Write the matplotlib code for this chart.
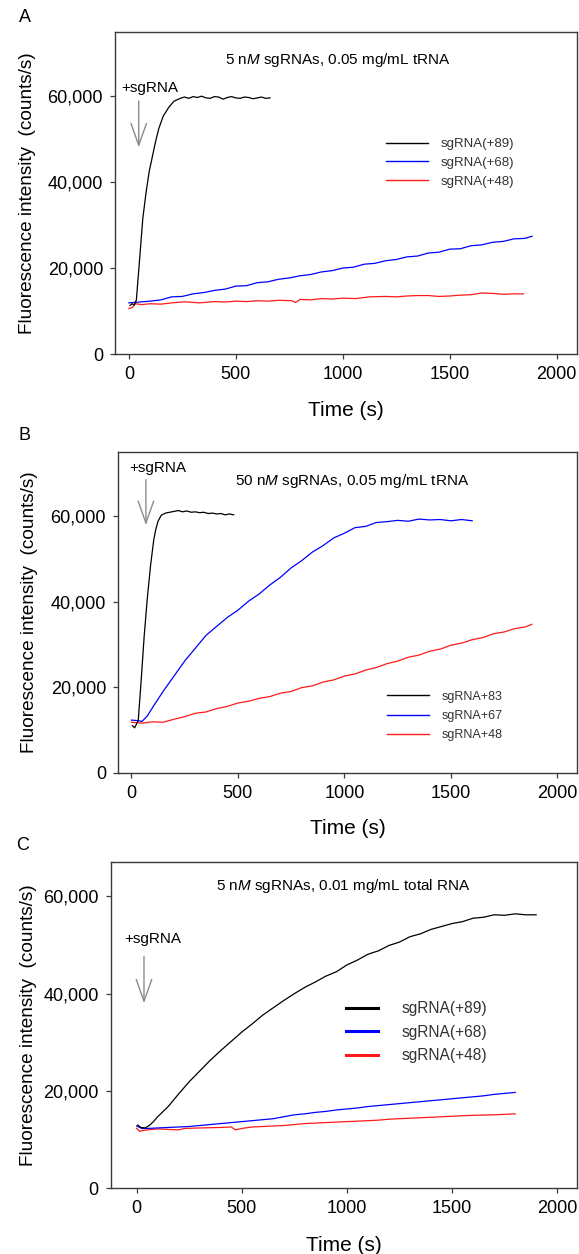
import matplotlib
matplotlib.use("Agg")
import matplotlib.pyplot as plt
from matplotlib.ticker import FuncFormatter, FixedLocator

plt.rcParams['font.family'] = ['Liberation Sans', 'DejaVu Sans']
plt.rcParams['mathtext.fontset'] = 'custom'
plt.rcParams['mathtext.rm'] = 'Liberation Sans'
plt.rcParams['mathtext.it'] = 'Liberation Sans:italic'

# ---------------- panel A : 5 nM sgRNAs, 0.05 mg/mL tRNA ----------------
a_black_t = [5, 15, 25, 35, 50, 65, 80, 95, 110, 125, 140, 160, 185, 210, 240,
             260, 280, 300, 320, 340, 360, 380, 400, 420, 440, 460, 480, 500,
             520, 540, 560, 580, 600, 620, 640, 660]
a_black_y = [11300, 11700, 11400, 12600, 22000, 31500, 37500, 42500, 46000, 49500,
             52500, 55300, 57300, 58800, 59500,
             59800, 59500, 59900, 59700, 60000, 59600, 59500, 59900, 59800, 59300,
             59700, 59900, 59600, 59500, 59800, 59700, 59400, 59600, 59800, 59500, 59600]

a_blue_t = [0, 50, 100, 150, 200, 250, 300, 350, 400, 450, 500, 550, 600, 650, 700,
            750, 800, 850, 900, 950, 1000, 1050, 1100, 1150, 1200, 1250, 1300, 1350,
            1400, 1450, 1500, 1550, 1600, 1650, 1700, 1750, 1800, 1850, 1885]
a_blue_y = [11900, 12100, 12300, 12600, 13300, 13400, 14000, 14300, 14800, 15100,
            15800, 15900, 16600, 16800, 17400, 17700, 18200, 18500, 19100, 19400,
            20000, 20200, 20900, 21100, 21700, 22000, 22600, 22800, 23500, 23700,
            24400, 24500, 25200, 25400, 26000, 26200, 26800, 26900, 27400]

a_red_t = [0, 15, 30, 60, 100, 150, 200, 262, 330, 400, 450, 500, 550, 600, 650, 700,
           760, 780, 800, 850, 900, 950, 1000, 1060, 1125, 1200, 1250, 1300, 1350,
           1400, 1450, 1500, 1550, 1600, 1650, 1700, 1750, 1800, 1845]
a_red_y = [10600, 10800, 11700, 11500, 11700, 11600, 11900, 12150, 11900, 12200,
           12100, 12300, 12200, 12400, 12300, 12500, 12400, 12000, 12700, 12600,
           12900, 12800, 13000, 12900, 13300, 13400, 13300, 13500, 13600, 13600,
           13400, 13500, 13700, 13800, 14200, 14100, 13900, 14000, 14000]

# ---------------- panel B : 50 nM sgRNAs, 0.05 mg/mL tRNA ----------------
b_black_t = [5, 15, 25, 32, 45, 60, 75, 90, 105, 115, 125, 140, 160, 180, 200, 220,
             240, 260, 280, 300, 320, 340, 360, 380, 400, 420, 440, 460, 480]
b_black_y = [11000, 10500, 11500, 12200, 21000, 32000, 41000, 48500, 54500, 57000,
             58800, 60200, 60700, 60900, 61100, 61300, 61000, 61200, 60900, 61000,
             60800, 60900, 60600, 60700, 60500, 60600, 60300, 60500, 60300]

b_blue_t = [0, 25, 50, 75, 100, 150, 200, 250, 300, 350, 400, 450, 500, 550, 600,
            650, 700, 750, 800, 850, 900, 950, 1000, 1050, 1100, 1150, 1200, 1250,
            1300, 1350, 1400, 1450, 1500, 1550, 1600]
b_blue_y = [12300, 12200, 12000, 13300, 15300, 19100, 22600, 26100, 29100, 32100,
            34200, 36300, 38000, 40100, 41800, 43900, 45700, 47900, 49600, 51600,
            53100, 54900, 56000, 57300, 57600, 58500, 58700, 59000, 58800, 59300,
            59100, 59200, 58900, 59200, 58900]

b_red_t = [0, 50, 100, 150, 200, 250, 300, 350, 400, 450, 500, 550, 600, 650, 700,
           750, 800, 850, 900, 950, 1000, 1050, 1100, 1150, 1200, 1250, 1300, 1350,
           1400, 1450, 1500, 1550, 1600, 1650, 1700, 1750, 1800, 1850, 1880]
b_red_y = [11800, 11600, 11900, 11800, 12500, 13100, 13900, 14200, 15000, 15500,
           16300, 16700, 17400, 17800, 18600, 19000, 19900, 20300, 21200, 21700,
           22600, 23100, 24000, 24600, 25500, 26100, 27000, 27500, 28400, 28900,
           29800, 30300, 31100, 31600, 32500, 32900, 33700, 34100, 34700]

# ---------------- panel C : 5 nM sgRNAs, 0.01 mg/mL total RNA ----------------
c_black_t = [5, 20, 40, 60, 80, 100, 150, 200, 250, 300, 350, 400, 450, 500, 550,
             600, 650, 700, 750, 800, 850, 900, 950, 1000, 1050, 1100, 1150, 1200,
             1250, 1300, 1350, 1400, 1450, 1500, 1550, 1600, 1650, 1700, 1750, 1800,
             1850, 1900]
c_black_y = [13000, 12500, 12400, 12900, 13700, 14700, 16800, 19400, 21900, 24100,
             26300, 28300, 30200, 32100, 33800, 35600, 37100, 38600, 40000, 41300,
             42400, 43600, 44500, 45900, 46900, 48100, 48800, 49900, 50600, 51700,
             52300, 53200, 53800, 54400, 54800, 55500, 55700, 56200, 56100, 56400,
             56200, 56200]

c_blue_t = [0, 25, 50, 100, 150, 200, 250, 300, 350, 400, 450, 500, 550, 600, 650,
            700, 750, 800, 850, 900, 950, 1000, 1050, 1100, 1150, 1200, 1250, 1300,
            1350, 1400, 1450, 1500, 1550, 1600, 1650, 1700, 1750, 1800]
c_blue_y = [12800, 12300, 12300, 12400, 12500, 12600, 12700, 12900, 13100, 13300,
            13500, 13700, 13900, 14100, 14300, 14700, 15100, 15300, 15600, 15800,
            16100, 16300, 16500, 16800, 17000, 17200, 17400, 17600, 17800, 18000,
            18200, 18400, 18600, 18800, 19000, 19300, 19500, 19700]

c_red_t = [0, 15, 30, 100, 200, 228, 300, 400, 450, 470, 500, 550, 600, 700, 800,
           900, 1000, 1100, 1150, 1200, 1300, 1400, 1500, 1600, 1700, 1800]
c_red_y = [12300, 11700, 11900, 12200, 12000, 12300, 12400, 12500, 12600, 12000,
           12300, 12600, 12700, 12900, 13300, 13500, 13700, 13900, 14000, 14200,
           14400, 14600, 14800, 15000, 15100, 15300]

labels_a = ['sgRNA(+89)', 'sgRNA(+68)', 'sgRNA(+48)']
labels_b = ['sgRNA+83', 'sgRNA+67', 'sgRNA+48']
labels_c = ['sgRNA(+89)', 'sgRNA(+68)', 'sgRNA(+48)']

titles = ['5 n$\\mathit{M}$ sgRNAs, 0.05 mg/mL tRNA',
          '50 n$\\mathit{M}$ sgRNAs, 0.05 mg/mL tRNA',
          '5 n$\\mathit{M}$ sgRNAs, 0.01 mg/mL total RNA']

spine_col = '#3a3a3a'

fig = plt.figure(figsize=(5.79, 12.54), dpi=100)

axA = fig.add_axes([0.1986, 0.7177, 0.7979, 0.2570])
axB = fig.add_axes([0.2038, 0.3838, 0.7927, 0.2558])
axC = fig.add_axes([0.1913, 0.0524, 0.8052, 0.2600])

panels = [
    (axA, (a_black_t, a_black_y), (a_blue_t, a_blue_y), (a_red_t, a_red_y), labels_a,
     (-65, 2095), 75000, titles[0], (977, 68400), (98, 61900), (46, 58900, 48100),
     (0.587, 0.593), 9.5, 3.2, 0.9, 0.48, 1.0, -0.171),
    (axB, (b_black_t, b_black_y), (b_blue_t, b_blue_y), (b_red_t, b_red_y), labels_b,
     (-63, 2092), 75000, titles[1], (1035, 68100), (124, 71200), (68, 68500, 57900),
     (0.586, 0.177), 9.0, 3.4, 0.95, 0.58, 1.0, -0.174),
    (axC, (c_black_t, c_black_y), (c_blue_t, c_blue_y), (c_red_t, c_red_y), labels_c,
     (-123, 2094), 67000, titles[2], (985, 62200), (76, 51200), (35, 47700, 38000),
     (0.5045, 0.4785), 11.2, 2.05, 1.5, 0.55, 2.2, -0.158),
]

for (ax, blk, blu, red, labs, xl, ytop, ttl, ttl_xy, sg_xy, arr,
     leg_xy, leg_fs, hlen, hpad, lspace, leg_lw, ylab_x) in panels:
    lr, = ax.plot(red[0], red[1], color='#ff1a1a', lw=0.9)
    lb, = ax.plot(blu[0], blu[1], color='#0000ff', lw=0.9)
    lk, = ax.plot(blk[0], blk[1], color='black', lw=0.9)

    ax.set_xlim(*xl)
    ax.set_ylim(0, ytop)
    ax.xaxis.set_major_locator(FixedLocator([0, 500, 1000, 1500, 2000]))
    ax.yaxis.set_major_locator(FixedLocator([0, 20000, 40000, 60000]))
    ax.yaxis.set_major_formatter(FuncFormatter(lambda v, p: '{:,.0f}'.format(v)))
    ax.tick_params(direction='out', length=3.6, width=0.9, color=spine_col,
                   labelsize=13, pad=5, top=False, right=False)
    for s in ax.spines.values():
        s.set_color(spine_col)
        s.set_linewidth(1.0)

    ax.set_xlabel('Time (s)', fontsize=15)
    ax.xaxis.set_label_coords(0.5, -0.145)
    ax.set_ylabel('Fluorescence intensity  (counts/s)', fontsize=13.7)
    ax.yaxis.set_label_coords(ylab_x, 0.5)

    ax.text(ttl_xy[0], ttl_xy[1], ttl, ha='center', va='center', fontsize=11)
    ax.text(sg_xy[0], sg_xy[1], '+sgRNA', ha='center', va='center', fontsize=11)
    ax.annotate('', xy=(arr[0], arr[2]), xytext=(arr[0], arr[1]),
                arrowprops=dict(arrowstyle='->,head_length=0.45,head_width=0.16',
                                color='#8c8c8c', lw=1.0, mutation_scale=35,
                                shrinkA=0, shrinkB=0))

    leg = ax.legend([lk, lb, lr], labs, loc='center left', bbox_to_anchor=leg_xy,
                    frameon=False, fontsize=leg_fs, handlelength=hlen,
                    handletextpad=hpad, labelspacing=lspace, borderpad=0,
                    borderaxespad=0)
    for ln in leg.get_lines():
        ln.set_linewidth(leg_lw)
    for t in leg.get_texts():
        t.set_color('#333333')

fig.text(25 / 579, 1 - 17 / 1254, 'A', ha='center', va='center', fontsize=13)
fig.text(24 / 579, 1 - 435 / 1254, 'B', ha='center', va='center', fontsize=13)
fig.text(23 / 579, 1 - 845 / 1254, 'C', ha='center', va='center', fontsize=13)

fig.savefig('out.png', dpi=100)
